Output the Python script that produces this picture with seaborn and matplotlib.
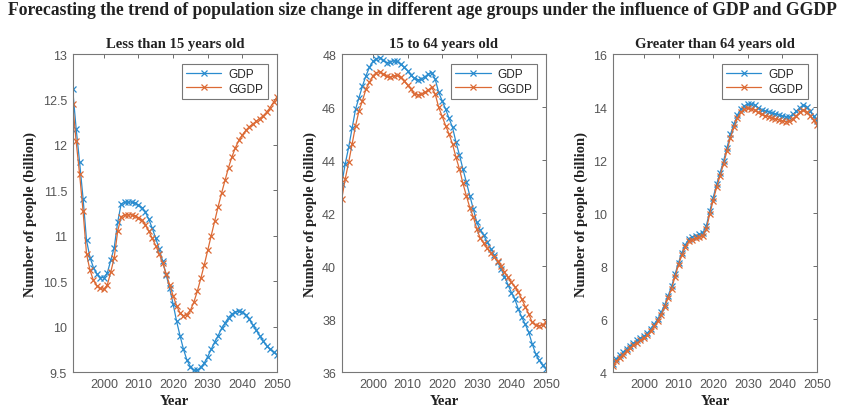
import numpy as np
import pandas as pd
import matplotlib
matplotlib.use("Agg")
import matplotlib.pyplot as plt
import seaborn as sns

years = list(range(1991, 2051))

# Population under 15 (billion)
u15_gdp = [12.61, 12.18, 11.81, 11.41, 10.95, 10.76, 10.65, 10.58, 10.54, 10.54,
           10.59, 10.73, 10.87, 11.15, 11.35, 11.37, 11.37, 11.37, 11.36, 11.34,
           11.31, 11.26, 11.18, 11.08, 10.97, 10.85, 10.72, 10.57, 10.42, 10.25,
           10.06, 9.90, 9.75, 9.63, 9.56, 9.52, 9.52, 9.55, 9.60, 9.67,
           9.75, 9.83, 9.90, 9.98, 10.04, 10.10, 10.14, 10.16, 10.17, 10.16,
           10.13, 10.08, 10.02, 9.96, 9.90, 9.84, 9.79, 9.75, 9.72, 9.69]
u15_ggdp = [12.45, 12.04, 11.68, 11.27, 10.80, 10.62, 10.51, 10.45, 10.42, 10.41,
            10.46, 10.60, 10.76, 11.05, 11.21, 11.23, 11.23, 11.23, 11.22, 11.20,
            11.17, 11.12, 11.05, 10.97, 10.89, 10.80, 10.70, 10.58, 10.46, 10.34,
            10.23, 10.15, 10.12, 10.13, 10.18, 10.27, 10.39, 10.53, 10.68, 10.84,
            11.00, 11.16, 11.32, 11.47, 11.61, 11.75, 11.87, 11.97, 12.05, 12.11,
            12.16, 12.20, 12.23, 12.26, 12.29, 12.32, 12.36, 12.41, 12.47, 12.53]

# Population aged 15 to 64 (billion)
mid_gdp = [43.09, 43.85, 44.48, 45.20, 45.92, 46.36, 46.80, 47.18, 47.50, 47.72,
           47.83, 47.87, 47.76, 47.68, 47.70, 47.75, 47.72, 47.62, 47.50, 47.37,
           47.20, 47.08, 47.02, 47.05, 47.14, 47.25, 47.30, 47.05, 46.55, 46.24,
           45.92, 45.57, 45.23, 44.67, 44.19, 43.66, 43.16, 42.65, 42.15, 41.65,
           41.35, 41.16, 40.91, 40.66, 40.41, 40.16, 39.90, 39.60, 39.30, 39.00,
           38.75, 38.37, 38.06, 37.80, 37.50, 37.06, 36.69, 36.44, 36.25, 36.12]
mid_ggdp = [42.53, 43.28, 43.91, 44.60, 45.30, 45.86, 46.24, 46.68, 46.93, 47.18,
            47.30, 47.33, 47.25, 47.16, 47.12, 47.18, 47.20, 47.12, 47.00, 46.83,
            46.68, 46.49, 46.45, 46.49, 46.55, 46.65, 46.74, 46.49, 45.99, 45.65,
            45.30, 44.98, 44.60, 44.10, 43.66, 43.12, 42.65, 42.20, 41.85, 41.40,
            41.05, 40.86, 40.67, 40.50, 40.35, 40.18, 40.00, 39.77, 39.57, 39.38,
            39.22, 39.02, 38.75, 38.47, 38.19, 37.87, 37.77, 37.75, 37.77, 37.90]

# Population over 64 (billion)
old_gdp = [4.31, 4.50, 4.63, 4.75, 4.88, 5.00, 5.09, 5.19, 5.28, 5.35,
           5.46, 5.63, 5.81, 6.00, 6.25, 6.53, 6.88, 7.23, 7.69, 8.13,
           8.50, 8.81, 9.03, 9.10, 9.15, 9.19, 9.25, 9.50, 10.06, 10.58,
           11.08, 11.52, 11.96, 12.47, 12.97, 13.35, 13.70, 13.92, 14.05, 14.10,
           14.10, 14.07, 13.98, 13.90, 13.85, 13.82, 13.78, 13.74, 13.70, 13.66,
           13.62, 13.63, 13.72, 13.84, 13.97, 14.08, 14.00, 13.85, 13.65, 13.47]
old_ggdp = [4.22, 4.40, 4.54, 4.66, 4.79, 4.91, 5.01, 5.10, 5.19, 5.27,
            5.38, 5.54, 5.72, 5.92, 6.17, 6.45, 6.80, 7.15, 7.60, 8.05,
            8.42, 8.72, 8.93, 9.00, 9.05, 9.09, 9.13, 9.38, 9.95, 10.47,
            10.97, 11.41, 11.85, 12.35, 12.85, 13.23, 13.58, 13.80, 13.92, 13.95,
            13.93, 13.88, 13.80, 13.72, 13.68, 13.64, 13.60, 13.55, 13.52, 13.48,
            13.45, 13.47, 13.56, 13.67, 13.80, 13.90, 13.82, 13.68, 13.50, 13.33]

panel_titles = ["Less than 15 years old", "15 to 64 years old", "Greater than 64 years old"]
series_names = ["GDP", "GGDP"]
ylims = [(9.5, 13), (36, 48), (4, 16)]
ysteps = [0.5, 2, 2]
xticks = [2000, 2010, 2020, 2030, 2040, 2050]

sns.set_theme(style="white")
plt.rcParams["font.family"] = ["Liberation Sans", "DejaVu Sans"]

palette = {"GDP": "#2a8ccf", "GGDP": "#dc6a35"}
serif = ["Liberation Serif", "DejaVu Serif"]
tick_gray = "#555555"

fig = plt.figure(figsize=(8.45, 4.14), dpi=100)
lefts = [0.086, 0.4044, 0.7251]
axes = [fig.add_axes([l, 0.099, 0.2418, 0.768]) for l in lefts]

data = [(u15_gdp, u15_ggdp), (mid_gdp, mid_ggdp), (old_gdp, old_ggdp)]

for ax, (a, b), title, ylim, ystep in zip(axes, data, panel_titles, ylims, ysteps):
    df = pd.DataFrame({
        "Year": years * 2,
        "Value": list(a) + list(b),
        "Series": ["GDP"] * len(years) + ["GGDP"] * len(years),
    })
    sns.lineplot(data=df, x="Year", y="Value", hue="Series",
                 palette=palette, marker="x", markersize=5,
                 dashes=False, linewidth=0.9, ax=ax, legend=True)
    # 'x' markers are edge-only, so give their edges the line colour
    for line in ax.lines:
        line.set_markeredgecolor(line.get_color())
        line.set_markeredgewidth(0.9)
    ax.set_xlim(1991, 2050)
    ax.set_ylim(*ylim)
    ax.set_xticks(xticks)
    yt = np.arange(ylim[0], ylim[1] + ystep / 2, ystep)
    ax.set_yticks(yt)
    ax.set_yticklabels([f"{v:g}" for v in yt])
    ax.tick_params(direction="in", length=3, width=0.6, colors=tick_gray,
                   labelsize=9, top=True, right=True, pad=4,
                   labelcolor=tick_gray)
    for sp in ax.spines.values():
        sp.set_color("#777777")
        sp.set_linewidth(0.8)
    ax.set_title(title, fontsize=10.5, fontweight="bold", family=serif, pad=5,
                 color="#222222")
    ax.set_xlabel("Year", fontsize=10.5, fontweight="bold", family=serif,
                  color="#222222", labelpad=3)
    ax.set_ylabel("Number of people (billion)", fontsize=10.5, fontweight="bold",
                  family=serif, color="#222222", labelpad=4)
    handles, labels = ax.get_legend_handles_labels()
    for h in handles:
        h.set_marker("x")
        h.set_markeredgecolor(h.get_color())
        h.set_markeredgewidth(0.9)
        h.set_markersize(5)
        h.set_linewidth(0.9)
    leg = ax.legend(handles, labels, loc="upper right", fontsize=8.5,
                    frameon=True, fancybox=False, borderaxespad=0.8,
                    handlelength=3.0, handletextpad=0.6, borderpad=0.35,
                    labelspacing=0.25)
    leg.get_frame().set_edgecolor("#555555")
    leg.get_frame().set_linewidth(0.8)

fig.suptitle("Forecasting the trend of population size change in different age groups under the influence of GDP and GGDP",
             x=0.5, y=0.995, fontsize=12.7, fontweight="bold", family=serif,
             color="#222222", va="top")

fig.savefig("out.png", dpi=100)
